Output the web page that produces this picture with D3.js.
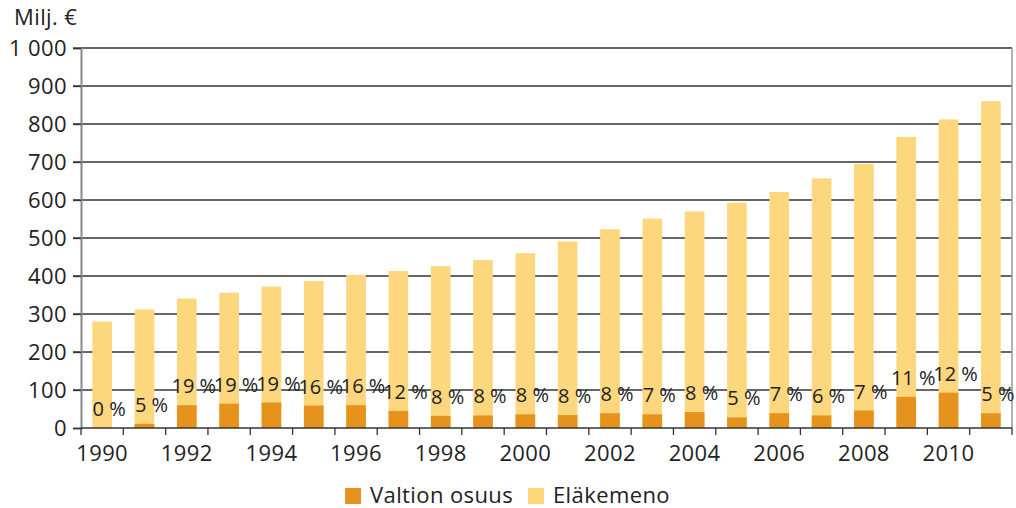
<!DOCTYPE html>
<html><head><meta charset="utf-8">
<script src="https://cdn.jsdelivr.net/npm/d3@7"></script>
<style>
body{margin:0;background:#fff;}
text{font-family:"Open Sans",sans-serif;fill:#222;letter-spacing:0.4px;}
text.pl{letter-spacing:0;}
</style></head>
<body><svg id="c" width="1016" height="508"></svg>
<script>
const years = [1990,1991,1992,1993,1994,1995,1996,1997,1998,1999,2000,2001,2002,2003,2004,2005,2006,2007,2008,2009,2010,2011];
const elakemeno = [280,312,341,356,372,387,403,413,426,442,460,491,523,551,570,593,621,657,695,766,812,860];
const valtionOsuus = [0,11,60,64,67,59,60,45,32,33,36,34,39,36,42,28,39,33,46,82,93,39];
const osuusLabels = ["0 %","5 %","19 %","19 %","19 %","16 %","16 %","12 %","8 %","8 %","8 %","8 %","8 %","7 %","8 %","5 %","7 %","6 %","7 %","11 %","12 %","5 %"];
const yTicks = [0,100,200,300,400,500,600,700,800,900,1000];
const xTickYears = [1990,1992,1994,1996,1998,2000,2002,2004,2006,2008,2010];
const seriesNames = ["Valtion osuus","Eläkemeno"];
const colors = ["#E6931E","#FDD77E"];

const svg = d3.select("#c");
const m = {left:81,right:1012,top:48,bottom:428};
const x = d3.scaleBand().domain(years).range([m.left,m.right]).paddingInner(0.535).paddingOuter(0.2675);
const xb = d3.scaleBand().domain(years).range([m.left,m.right]);
const y = d3.scaleLinear().domain([0,1000]).range([m.bottom,m.top]);
const fs = 22;

// gridlines
svg.append("g").selectAll("line").data(yTicks.filter(d=>d>0)).join("line")
  .attr("x1",m.left-8).attr("x2",m.right).attr("y1",d=>y(d)).attr("y2",d=>y(d))
  .attr("stroke","#333").attr("stroke-width",1.3);

// bars
svg.append("g").selectAll("rect").data(years).join("rect")
  .attr("x",(d)=>x(d)).attr("width",x.bandwidth())
  .attr("y",(d,i)=>y(elakemeno[i])).attr("height",(d,i)=>y(0)-y(elakemeno[i]))
  .attr("fill",colors[1]);
svg.append("g").selectAll("rect").data(years).join("rect")
  .attr("x",(d)=>x(d)).attr("width",x.bandwidth())
  .attr("y",(d,i)=>y(valtionOsuus[i])).attr("height",(d,i)=>y(0)-y(valtionOsuus[i]))
  .attr("fill",colors[0]);

// y axis
const ya = svg.append("g").attr("transform",`translate(${m.left},0)`)
  .call(d3.axisLeft(y).tickValues(yTicks).tickSize(8).tickPadding(6).tickFormat(d=>d===1000?"1 000":d));
ya.select(".domain").attr("stroke","#888").attr("stroke-width",2);
ya.selectAll(".tick line").attr("stroke","#333").attr("stroke-width",1.3);
ya.selectAll(".tick text").attr("font-size",fs).attr("font-family","Open Sans").attr("fill","#222");

// right border
svg.append("line").attr("x1",m.right).attr("x2",m.right).attr("y1",m.top).attr("y2",m.bottom)
  .attr("stroke","#999").attr("stroke-width",1.5);

// x axis
const xg = svg.append("g").attr("transform",`translate(0,${m.bottom})`);
xg.append("line").attr("x1",m.left).attr("x2",m.right).attr("stroke","#333").attr("stroke-width",1.5);
xg.selectAll("line.tk").data(years.concat([null])).join("line").attr("class","tk")
  .attr("x1",(d,i)=>m.left+i*xb.step()).attr("x2",(d,i)=>m.left+i*xb.step())
  .attr("y1",0).attr("y2",7).attr("stroke","#333").attr("stroke-width",1.3);
xg.selectAll("text").data(xTickYears).join("text")
  .attr("x",d=>xb(d)+xb.bandwidth()/2).attr("y",33).attr("text-anchor","middle")
  .attr("font-size",fs).text(d=>d);

// percent labels
svg.append("g").selectAll("text").data(years).join("text").attr("class","pl")
  .attr("x",d=>x(d)+x.bandwidth()/2+7).attr("y",(d,i)=>y(valtionOsuus[i])-12)
  .attr("text-anchor","middle").attr("font-size",20).text((d,i)=>osuusLabels[i]);

// title
svg.append("text").attr("x",14).attr("y",25).attr("font-size",fs).text("Milj. €");

// legend
const lg = svg.append("g");
const lx = [345,528];
seriesNames.forEach((n,i)=>{
  lg.append("rect").attr("x",lx[i]).attr("y",488).attr("width",16).attr("height",16).attr("fill",colors[i]);
  lg.append("text").attr("x",lx[i]+25).attr("y",503).attr("font-size",fs).text(n);
});
</script></body></html>
